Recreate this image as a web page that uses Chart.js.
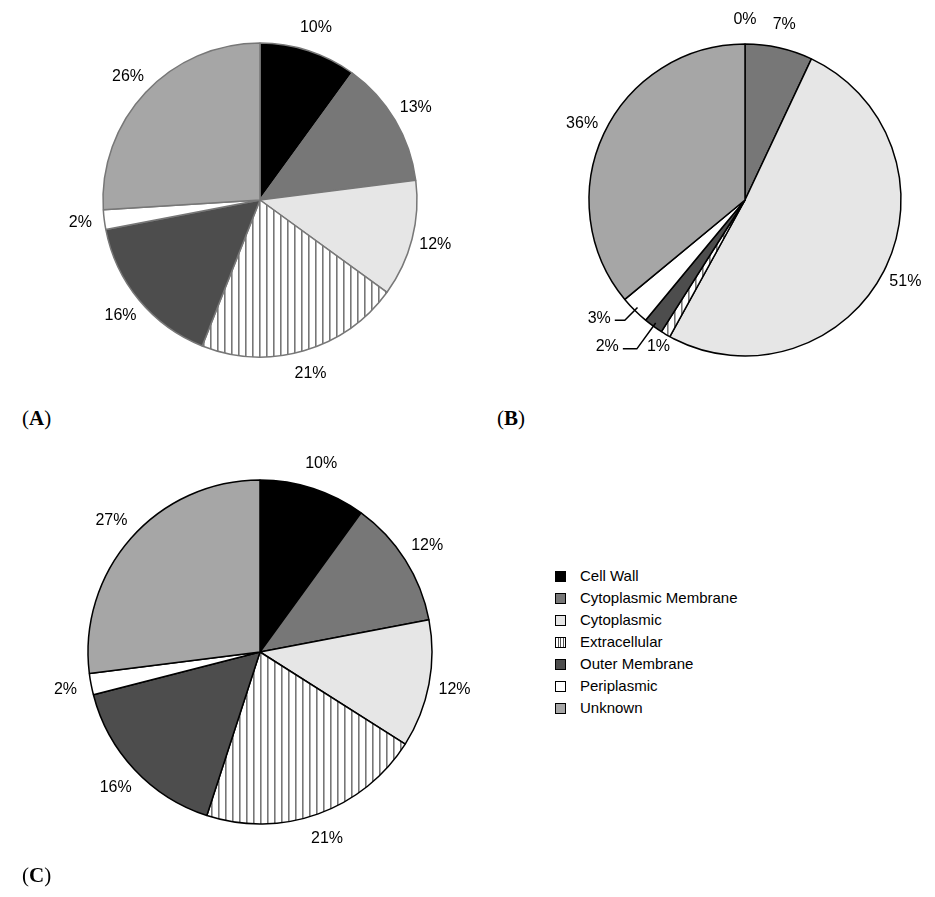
<!DOCTYPE html>
<html><head><meta charset="utf-8">
<script src="https://cdn.jsdelivr.net/npm/chart.js@4"></script>
<style>
body{margin:0;background:#fff;width:935px;height:897px;position:relative;font-family:Arial,"Liberation Sans",sans-serif;}
.c{position:absolute;}
.lab{position:absolute;font-family:"Times New Roman","Liberation Serif",serif;font-size:21px;}
#legend{position:absolute;left:555px;top:565px;font-size:15px;color:#000;}
#legend div{height:22px;line-height:22px;display:flex;align-items:center;}
#legend span.b{display:inline-block;width:11px;height:11px;border:1px solid #000;margin-right:14px;box-sizing:border-box;}
</style></head><body>
<canvas id="cA" class="c" style="left:60px;top:0px" width="400" height="400"></canvas>
<canvas id="cB" class="c" style="left:545px;top:0px" width="400" height="400"></canvas>
<canvas id="cC" class="c" style="left:40px;top:432px" width="440" height="440"></canvas>
<div class="lab" style="left:22px;top:406px">(<b>A</b>)</div>
<div class="lab" style="left:497px;top:406px">(<b>B</b>)</div>
<div class="lab" style="left:22px;top:863px">(<b>C</b>)</div>
<div id="legend"></div>
<script>
const categories=["Cell Wall","Cytoplasmic Membrane","Cytoplasmic","Extracellular","Outer Membrane","Periplasmic","Unknown"];
const valuesA=[10,13,12,21,16,2,26];
const valuesB=[0,7,51,1,2,3,36];
const valuesC=[10,12,12,21,16,2,27];

function stripe(){const p=document.createElement('canvas');p.width=7;p.height=7;const x=p.getContext('2d');
x.fillStyle='#fff';x.fillRect(0,0,7,7);x.fillStyle='#777';x.fillRect(3,0,1.6,7);return x.createPattern(p,'repeat');}
const colors=['#000000','#777777','#e6e6e6',null,'#4d4d4d','#ffffff','#a6a6a6'];

const lg=document.getElementById('legend');
categories.forEach((c,i)=>{const d=document.createElement('div');const s=document.createElement('span');s.className='b';
if(i===3){s.style.background='repeating-linear-gradient(90deg,#fff 0 1.5px,#555 1.5px 2.5px)';}else s.style.background=colors[i];
d.appendChild(s);d.appendChild(document.createTextNode(c));lg.appendChild(d);});

const labelPlugin={id:'lab',afterDraw(ch,a,opts){
 const ctx=ch.ctx;const meta=ch.getDatasetMeta(0);const vals=ch.data.datasets[0].data;
 ctx.save();ctx.font='16px Arial, "Liberation Sans", sans-serif';ctx.fillStyle='#000';ctx.textAlign='center';ctx.textBaseline='middle';
 meta.data.forEach((arc,i)=>{
  const mid=(arc.startAngle+arc.endAngle)/2;const r=arc.outerRadius;
  const ov=(opts.over||{})[i];
  if(ov&&ov.h){
   const p1x=arc.x+Math.cos(mid)*(r-4),p1y=arc.y+Math.sin(mid)*(r-4);
   const p2x=arc.x+Math.cos(mid)*(r+ov.r),p2y=arc.y+Math.sin(mid)*(r+ov.r);
   ctx.strokeStyle='#000';ctx.lineWidth=1.5;ctx.beginPath();ctx.moveTo(p1x,p1y);ctx.lineTo(p2x,p2y);ctx.lineTo(p2x-ov.h,p2y);ctx.stroke();
   ctx.textAlign='right';ctx.fillText(vals[i]+'%',p2x-ov.h-4,p2y-2);ctx.textAlign='center';
  } else {
   const off=ov?ov.r:(opts.off||26);
   ctx.fillText(vals[i]+'%',arc.x+Math.cos(mid)*(r+off),arc.y+Math.sin(mid)*(r+off));
  }
 });ctx.restore();}};

function make(id,vals,border,radius,over,off){
 const bg=colors.map((c,i)=>i===3?stripe():c);
 new Chart(document.getElementById(id),{type:'pie',
  data:{labels:categories,datasets:[{data:vals,backgroundColor:bg,borderColor:border,borderWidth:1.5}]},
  options:{responsive:false,animation:false,radius:radius,layout:{padding:0},
   plugins:{legend:{display:false},tooltip:{enabled:false},lab:{over:over,off:off}}},
  plugins:[labelPlugin]});
}
make('cA',valuesA,'#777',157,null,24);
make('cB',valuesB,'#000',156,{3:{r:14,h:0},4:{r:28,h:14},5:{r:14,h:10}},24);
make('cC',valuesC,'#000',172,null,26);
</script></body></html>
